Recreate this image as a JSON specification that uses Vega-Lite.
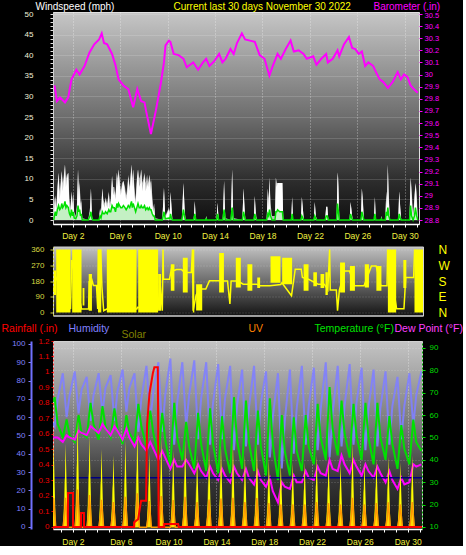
{
  "$schema": "https://vega.github.io/schema/vega-lite/v6.json",
  "background": "#000000",
  "padding": 0,
  "columns": 1,
  "bounds": "full",
  "spacing": {"row": 2.5, "column": 0},
  "config": {
    "font": "Liberation Sans",
    "axis": {
      "labelFont": "Liberation Sans",
      "titleFont": "Liberation Sans",
      "labelFontSize": 8,
      "titleFontSize": 10.5,
      "titleFontWeight": "normal",
      "titleAngle": 0,
      "titleAlign": "left",
      "titleBaseline": "top",
      "labelOverlap": false,
      "labelFlush": false
    }
  },
  "datasets": {
    "wind": [
      {"t":0.40,"w":0,"g":0,"a":0},{"t":0.45,"w":4,"g":5,"a":1},{"t":0.52,"w":5.6,"g":6,"a":2},{"t":0.60,"w":2,"g":3,"a":1},
      {"t":0.70,"w":7,"g":8,"a":2.5},{"t":0.80,"w":11.5,"g":11.5,"a":3.5},{"t":0.90,"w":5,"g":7,"a":2.5},{"t":1.00,"w":9,"g":10,"a":3},
      {"t":1.07,"w":11.9,"g":11.9,"a":4},{"t":1.15,"w":7,"g":9,"a":3},{"t":1.25,"w":10,"g":11,"a":3.5},{"t":1.34,"w":13.5,"g":13.5,"a":4.5},
      {"t":1.42,"w":8,"g":10,"a":3},{"t":1.50,"w":10,"g":11,"a":3.5},{"t":1.62,"w":11.5,"g":11.5,"a":3},{"t":1.72,"w":3,"g":5,"a":1.5},
      {"t":1.80,"w":2,"g":3,"a":1},{"t":1.89,"w":7,"g":7,"a":2.5},{"t":1.96,"w":3,"g":4,"a":1},{"t":2.03,"w":6.6,"g":6.6,"a":2},
      {"t":2.12,"w":1,"g":2,"a":0.5},{"t":2.25,"w":0.5,"g":1,"a":0.3},{"t":2.35,"w":3,"g":4,"a":1},{"t":2.44,"w":12.3,"g":12.3,"a":3.5},
      {"t":2.52,"w":5,"g":7,"a":2},{"t":2.58,"w":9,"g":9.5,"a":2.5},{"t":2.65,"w":3,"g":4,"a":1},{"t":2.71,"w":4.6,"g":5,"a":1.5},
      {"t":2.80,"w":0,"g":0.5,"a":0},{"t":3.30,"w":0,"g":0,"a":0},{"t":3.45,"w":2,"g":3,"a":1},{"t":3.53,"w":7.7,"g":7.7,"a":2},
      {"t":3.62,"w":0.5,"g":1,"a":0.3},{"t":3.70,"w":0,"g":0,"a":0},{"t":4.20,"w":0,"g":0,"a":0},{"t":4.30,"w":2.6,"g":3,"a":1},
      {"t":4.38,"w":1,"g":2,"a":0.5},{"t":4.49,"w":7.7,"g":7.7,"a":2},{"t":4.58,"w":4,"g":5,"a":1.5},{"t":4.68,"w":3,"g":4,"a":1.5},
      {"t":4.76,"w":5,"g":5.5,"a":2},{"t":4.90,"w":3,"g":4,"a":1.5},{"t":5.04,"w":6.6,"g":7,"a":2.5},{"t":5.12,"w":3,"g":4,"a":2},
      {"t":5.20,"w":4,"g":5,"a":2},{"t":5.31,"w":10.7,"g":10.7,"a":3.5},{"t":5.40,"w":6,"g":8,"a":3},{"t":5.50,"w":7,"g":8,"a":3},
      {"t":5.60,"w":5,"g":6,"a":2},{"t":5.72,"w":11.5,"g":11.5,"a":4},{"t":5.80,"w":8,"g":10,"a":3},{"t":5.86,"w":12.3,"g":12.3,"a":4},
      {"t":5.95,"w":9,"g":10,"a":3.5},{"t":6.05,"w":6,"g":7,"a":3},{"t":6.15,"w":8,"g":9,"a":3},{"t":6.27,"w":9.5,"g":9.5,"a":3.5},
      {"t":6.40,"w":7,"g":8,"a":3},{"t":6.50,"w":5,"g":6,"a":2.5},{"t":6.60,"w":7,"g":8,"a":3},{"t":6.68,"w":10.5,"g":11,"a":3.5},
      {"t":6.80,"w":7,"g":8,"a":3},{"t":6.95,"w":13.5,"g":13.5,"a":4.5},{"t":7.02,"w":8,"g":10,"a":3},{"t":7.09,"w":12.3,"g":12.3,"a":4},
      {"t":7.20,"w":6,"g":8,"a":3},{"t":7.30,"w":4,"g":5,"a":2},{"t":7.40,"w":9,"g":10,"a":3},{"t":7.50,"w":12.3,"g":12.3,"a":4},
      {"t":7.60,"w":8,"g":10,"a":3},{"t":7.70,"w":9,"g":11,"a":3},{"t":7.77,"w":12.3,"g":12.3,"a":3.5},{"t":7.86,"w":7,"g":9,"a":3},
      {"t":7.95,"w":9,"g":10,"a":3},{"t":8.05,"w":11,"g":11.5,"a":3.5},{"t":8.15,"w":7,"g":9,"a":2.5},{"t":8.27,"w":9,"g":11,"a":3},
      {"t":8.36,"w":8,"g":9,"a":2.5},{"t":8.46,"w":11,"g":11,"a":3},{"t":8.53,"w":7,"g":9,"a":2.5},{"t":8.60,"w":9.5,"g":10,"a":2.5},
      {"t":8.70,"w":4,"g":6,"a":1.5},{"t":8.80,"w":2,"g":3,"a":1},{"t":8.87,"w":3,"g":4,"a":1},{"t":8.95,"w":0,"g":0.5,"a":0},
      {"t":9.55,"w":0,"g":0,"a":0},{"t":9.69,"w":7.8,"g":7.8,"a":2},{"t":9.80,"w":0.5,"g":1,"a":0.3},{"t":10.10,"w":2.6,"g":3,"a":0.5},
      {"t":10.18,"w":1,"g":2,"a":0.3},{"t":10.24,"w":6.8,"g":6.8,"a":1.5},{"t":10.32,"w":3,"g":4,"a":0.5},{"t":10.40,"w":0,"g":0,"a":0},
      {"t":11.20,"w":0,"g":0,"a":0},{"t":11.33,"w":9,"g":9,"a":2.5},{"t":11.42,"w":3,"g":4,"a":1},{"t":11.50,"w":0,"g":0,"a":0},
      {"t":12.20,"w":0,"g":0,"a":0},{"t":12.29,"w":4.6,"g":4.6,"a":1.5},{"t":12.38,"w":0,"g":0,"a":0},{"t":13.20,"w":0,"g":0,"a":0},
      {"t":13.25,"w":1,"g":1,"a":0.3},{"t":13.30,"w":0,"g":0,"a":0},{"t":14.12,"w":0,"g":0,"a":0},{"t":14.21,"w":4.2,"g":4.2,"a":1.5},
      {"t":14.30,"w":0,"g":0,"a":0},{"t":14.65,"w":0,"g":0,"a":0},{"t":14.76,"w":9.5,"g":9.5,"a":2.5},{"t":14.86,"w":0,"g":0.5,"a":0},
      {"t":15.33,"w":0,"g":0,"a":0},{"t":15.44,"w":12.3,"g":12.3,"a":3},{"t":15.54,"w":0,"g":0.5,"a":0},{"t":16.30,"w":0,"g":0,"a":0},
      {"t":16.40,"w":7.7,"g":7.7,"a":2},{"t":16.48,"w":3,"g":4,"a":1},{"t":16.55,"w":0,"g":0,"a":0},{"t":17.27,"w":0,"g":0,"a":0},
      {"t":17.35,"w":5.8,"g":5.8,"a":1.5},{"t":17.44,"w":1,"g":2,"a":0.3},{"t":17.52,"w":0,"g":0,"a":0},{"t":18.35,"w":0,"g":0,"a":0},
      {"t":18.45,"w":7.7,"g":7.7,"a":1.5},{"t":18.52,"w":3,"g":5,"a":1},{"t":18.59,"w":10.3,"g":10.3,"a":2.5},{"t":18.68,"w":2,"g":4,"a":1},
      {"t":18.80,"w":0,"g":1,"a":0},{"t":19.05,"w":0,"g":1,"a":0},{"t":19.13,"w":10.3,"g":10.3,"a":2},{"t":19.20,"w":8,"g":9,"a":2},
      {"t":19.27,"w":9,"g":9,"a":2.5},{"t":19.45,"w":9,"g":9,"a":2},{"t":19.68,"w":9,"g":9,"a":2},{"t":19.75,"w":0,"g":0,"a":0},
      {"t":20.42,"w":0,"g":0,"a":0},{"t":20.50,"w":5.6,"g":5.6,"a":1.5},{"t":20.58,"w":0,"g":0,"a":0},{"t":21.24,"w":0,"g":0,"a":0},
      {"t":21.32,"w":5.6,"g":5.6,"a":1},{"t":21.40,"w":3,"g":3,"a":0.5},{"t":21.48,"w":0,"g":0,"a":0},{"t":22.33,"w":0,"g":0,"a":0},
      {"t":22.41,"w":4.4,"g":4.4,"a":1},{"t":22.50,"w":1,"g":1,"a":0.3},{"t":22.58,"w":0,"g":0,"a":0},{"t":23.28,"w":0,"g":0,"a":0},
      {"t":23.37,"w":3.2,"g":3.2,"a":1},{"t":23.47,"w":3.2,"g":3.2,"a":1},{"t":23.55,"w":0,"g":0,"a":0},{"t":24.25,"w":0,"g":0,"a":0},
      {"t":24.33,"w":11.6,"g":11.6,"a":4},{"t":24.40,"w":8,"g":10,"a":2},{"t":24.48,"w":0,"g":0,"a":0},{"t":25.35,"w":0,"g":0,"a":0},
      {"t":25.43,"w":4.4,"g":4.4,"a":1.5},{"t":25.52,"w":2,"g":2,"a":0.5},{"t":25.60,"w":0,"g":0,"a":0},{"t":26.30,"w":0,"g":0,"a":0},
      {"t":26.38,"w":7.7,"g":7.7,"a":2},{"t":26.47,"w":4,"g":5,"a":1},{"t":26.55,"w":0,"g":0,"a":0},{"t":27.40,"w":0,"g":0,"a":0},
      {"t":27.48,"w":5.6,"g":5.6,"a":1.5},{"t":27.56,"w":0,"g":0,"a":0},{"t":27.98,"w":0,"g":0,"a":0},{"t":28.03,"w":1,"g":1,"a":0.3},
      {"t":28.08,"w":0,"g":0,"a":0},{"t":28.36,"w":0,"g":0,"a":0},{"t":28.44,"w":7,"g":7,"a":2},{"t":28.50,"w":3,"g":3,"a":1},
      {"t":28.57,"w":13.5,"g":13.5,"a":3},{"t":28.65,"w":5,"g":6,"a":1},{"t":28.75,"w":0,"g":0,"a":0},{"t":29.45,"w":0,"g":0,"a":0},
      {"t":29.53,"w":7,"g":7,"a":1.5},{"t":29.62,"w":3,"g":3,"a":0.5},{"t":29.70,"w":0,"g":0,"a":0},{"t":30.40,"w":0,"g":0,"a":0},
      {"t":30.49,"w":10.3,"g":10.3,"a":3.5},{"t":30.57,"w":6,"g":8,"a":1},{"t":30.70,"w":0,"g":1,"a":0},{"t":30.82,"w":5,"g":6,"a":1},
      {"t":30.90,"w":9,"g":9,"a":3},{"t":31.00,"w":5,"g":7,"a":1},{"t":31.10,"w":0,"g":0,"a":0}
    ],
    "baro": [
      {"t":0.46,"p":29.91},{"t":0.66,"p":29.78},{"t":0.93,"p":29.81},{"t":1.34,"p":29.77},{"t":1.61,"p":29.81},{"t":1.89,"p":29.96},
      {"t":2.30,"p":30.04},{"t":2.57,"p":30.00},{"t":2.99,"p":30.07},{"t":3.40,"p":30.18},{"t":3.81,"p":30.25},{"t":4.22,"p":30.29},
      {"t":4.44,"p":30.34},{"t":4.63,"p":30.26},{"t":4.90,"p":30.25},{"t":5.31,"p":30.17},{"t":5.59,"p":30.08},{"t":5.86,"p":29.96},
      {"t":6.27,"p":29.91},{"t":6.68,"p":29.88},{"t":7.09,"p":29.73},{"t":7.44,"p":29.88},{"t":7.77,"p":29.78},{"t":8.05,"p":29.77},
      {"t":8.18,"p":29.70},{"t":8.59,"p":29.51},{"t":9.00,"p":29.70},{"t":9.41,"p":29.92},{"t":9.69,"p":30.10},{"t":9.82,"p":30.24},
      {"t":10.10,"p":30.28},{"t":10.23,"p":30.27},{"t":10.51,"p":30.17},{"t":10.92,"p":30.16},{"t":11.34,"p":30.13},{"t":11.61,"p":30.06},
      {"t":12.16,"p":30.10},{"t":12.57,"p":30.04},{"t":12.98,"p":30.10},{"t":13.25,"p":30.13},{"t":13.52,"p":30.07},{"t":13.93,"p":30.11},
      {"t":14.34,"p":30.17},{"t":14.62,"p":30.10},{"t":14.89,"p":30.13},{"t":15.30,"p":30.21},{"t":15.57,"p":30.17},{"t":15.85,"p":30.26},
      {"t":16.26,"p":30.34},{"t":16.53,"p":30.29},{"t":16.94,"p":30.28},{"t":17.35,"p":30.27},{"t":17.76,"p":30.16},{"t":18.17,"p":30.13},
      {"t":18.58,"p":29.99},{"t":18.86,"p":30.07},{"t":19.27,"p":30.17},{"t":19.55,"p":30.13},{"t":19.96,"p":30.21},{"t":20.37,"p":30.28},
      {"t":20.64,"p":30.19},{"t":21.05,"p":30.20},{"t":21.46,"p":30.17},{"t":21.73,"p":30.13},{"t":22.28,"p":30.15},{"t":22.55,"p":30.08},
      {"t":22.96,"p":30.13},{"t":23.37,"p":30.17},{"t":23.51,"p":30.10},{"t":23.92,"p":30.13},{"t":24.33,"p":30.20},{"t":24.47,"p":30.15},
      {"t":24.88,"p":30.25},{"t":25.29,"p":30.31},{"t":25.56,"p":30.22},{"t":25.83,"p":30.21},{"t":26.11,"p":30.17},{"t":26.38,"p":30.19},
      {"t":26.66,"p":30.07},{"t":26.93,"p":30.10},{"t":27.34,"p":30.07},{"t":27.62,"p":30.01},{"t":27.89,"p":29.96},{"t":28.17,"p":29.94},
      {"t":28.58,"p":29.89},{"t":28.99,"p":29.94},{"t":29.40,"p":30.02},{"t":29.67,"p":29.96},{"t":29.94,"p":30.00},{"t":30.22,"p":29.98},
      {"t":30.49,"p":29.91},{"t":30.76,"p":29.88},{"t":31.09,"p":29.85}
    ],
    "dirline": [
      {"t":0.38,"d":120},{"t":0.58,"d":200},{"t":1.79,"d":20},{"t":1.89,"d":300},{"t":2.71,"d":20},{"t":3.00,"d":20},{"t":3.30,"d":20},
      {"t":3.35,"d":180},{"t":3.45,"d":140},{"t":3.60,"d":180},{"t":3.70,"d":155},{"t":3.96,"d":155},{"t":4.06,"d":20},{"t":4.11,"d":360},
      {"t":4.21,"d":15},{"t":4.31,"d":360},{"t":4.41,"d":150},{"t":4.56,"d":10},{"t":4.81,"d":20},{"t":7.33,"d":20},{"t":7.38,"d":30},
      {"t":9.10,"d":20},{"t":9.25,"d":180},{"t":9.45,"d":10},{"t":9.51,"d":360},{"t":9.55,"d":190},{"t":10.05,"d":190},{"t":10.21,"d":250},
      {"t":10.46,"d":240},{"t":10.62,"d":245},{"t":11.06,"d":245},{"t":11.30,"d":230},{"t":11.57,"d":228},{"t":11.87,"d":230},{"t":11.97,"d":360},
      {"t":12.02,"d":10},{"t":12.27,"d":100},{"t":12.57,"d":134},{"t":13.08,"d":134},{"t":13.38,"d":181},{"t":13.78,"d":181},{"t":14.19,"d":181},
      {"t":14.59,"d":180},{"t":14.89,"d":180},{"t":15.09,"d":49},{"t":15.19,"d":180},{"t":15.60,"d":180},{"t":16.00,"d":170},{"t":16.20,"d":162},
      {"t":16.91,"d":162},{"t":17.31,"d":162},{"t":17.61,"d":153},{"t":18.32,"d":153},{"t":18.42,"d":153},{"t":19.33,"d":160},{"t":19.43,"d":170},
      {"t":20.23,"d":96},{"t":20.54,"d":247},{"t":21.04,"d":247},{"t":21.14,"d":200},{"t":21.65,"d":190},{"t":22.45,"d":162},{"t":22.96,"d":162},
      {"t":23.26,"d":130},{"t":23.41,"d":360},{"t":23.46,"d":128},{"t":23.97,"d":128},{"t":24.07,"d":11},{"t":24.22,"d":128},{"t":24.67,"d":237},
      {"t":25.07,"d":237},{"t":25.48,"d":153},{"t":26.28,"d":153},{"t":26.89,"d":265},{"t":27.29,"d":265},{"t":27.69,"d":153},{"t":28.20,"d":153},
      {"t":28.25,"d":360},{"t":29.00,"d":21},{"t":29.61,"d":21},{"t":29.76,"d":200},{"t":30.42,"d":200},{"t":30.50,"d":360}
    ],
    "dirblk": [
      {"t":0.41,"t2":0.60,"lo":100,"hi":240},{"t":0.60,"t2":1.79,"lo":0,"hi":360},{"t":1.93,"t2":2.71,"lo":0,"hi":360},
      {"t":2.80,"t2":2.95,"lo":40,"hi":140},{"t":3.31,"t2":3.58,"lo":10,"hi":220},{"t":4.08,"t2":4.36,"lo":0,"hi":360},
      {"t":4.82,"t2":7.30,"lo":0,"hi":360},{"t":7.44,"t2":9.10,"lo":0,"hi":360},{"t":9.10,"t2":9.35,"lo":10,"hi":220},
      {"t":10.16,"t2":10.46,"lo":125,"hi":275},{"t":11.16,"t2":11.57,"lo":115,"hi":313},{"t":12.00,"t2":12.12,"lo":0,"hi":360},
      {"t":12.27,"t2":12.78,"lo":11,"hi":162},{"t":14.19,"t2":14.59,"lo":115,"hi":340},{"t":15.58,"t2":16.00,"lo":143,"hi":313},
      {"t":16.55,"t2":16.96,"lo":125,"hi":275},{"t":17.37,"t2":17.61,"lo":140,"hi":200},{"t":18.48,"t2":19.31,"lo":170,"hi":322},
      {"t":19.45,"t2":20.28,"lo":162,"hi":313},{"t":21.24,"t2":21.65,"lo":125,"hi":275},{"t":22.05,"t2":22.35,"lo":150,"hi":230},
      {"t":22.65,"t2":22.96,"lo":140,"hi":220},{"t":23.06,"t2":23.26,"lo":100,"hi":230},{"t":24.28,"t2":24.69,"lo":115,"hi":285},
      {"t":25.10,"t2":25.52,"lo":125,"hi":265},{"t":26.34,"t2":26.69,"lo":143,"hi":275},{"t":27.31,"t2":27.73,"lo":125,"hi":265},
      {"t":28.27,"t2":28.96,"lo":0,"hi":360},{"t":29.56,"t2":29.81,"lo":140,"hi":300},{"t":30.49,"t2":31.30,"lo":0,"hi":360}
    ],
    "cyc": [
      {"t":0.33,"T":66,"D":50,"H":57},{"t":0.47,"T":68,"D":50,"H":55},{"t":0.72,"T":56,"D":50,"H":70},
      {"t":1.15,"T":50,"D":48,"H":84},{"t":1.47,"T":58,"D":51,"H":60},{"t":1.72,"T":51,"D":50,"H":72},
      {"t":2.15,"T":48,"D":49,"H":85},{"t":2.47,"T":60,"D":53,"H":62},{"t":2.72,"T":52,"D":52,"H":75},
      {"t":3.15,"T":50,"D":51,"H":82},{"t":3.47,"T":65.5,"D":55,"H":58},{"t":3.72,"T":56,"D":54,"H":72},
      {"t":4.15,"T":49,"D":52,"H":84},{"t":4.47,"T":64,"D":56,"H":62},{"t":4.72,"T":55,"D":54,"H":76},
      {"t":5.15,"T":50,"D":51,"H":83},{"t":5.47,"T":63,"D":55,"H":58},{"t":5.72,"T":54,"D":53,"H":74},
      {"t":6.15,"T":47,"D":49,"H":86},{"t":6.47,"T":60,"D":54,"H":63},{"t":6.72,"T":52,"D":50,"H":76},
      {"t":7.15,"T":48,"D":46,"H":84},{"t":7.47,"T":65,"D":50,"H":52},{"t":7.72,"T":55,"D":47,"H":70},
      {"t":8.15,"T":46,"D":44,"H":88},{"t":8.47,"T":62,"D":48,"H":58},{"t":8.72,"T":52,"D":45,"H":74},
      {"t":9.15,"T":42,"D":40,"H":90},{"t":9.47,"T":61,"D":44,"H":52},{"t":9.72,"T":49,"D":41,"H":72},
      {"t":10.15,"T":37,"D":36,"H":92},{"t":10.47,"T":65.5,"D":40,"H":45},{"t":10.72,"T":50,"D":37,"H":68},
      {"t":11.15,"T":40,"D":37,"H":90},{"t":11.47,"T":57,"D":40,"H":55},{"t":11.72,"T":46,"D":38,"H":72},
      {"t":12.15,"T":36,"D":34,"H":91},{"t":12.47,"T":61,"D":38,"H":48},{"t":12.72,"T":47,"D":35,"H":70},
      {"t":13.15,"T":35,"D":32,"H":90},{"t":13.47,"T":63,"D":37,"H":45},{"t":13.72,"T":47,"D":34,"H":68},
      {"t":14.15,"T":34,"D":31,"H":89},{"t":14.47,"T":59.5,"D":36,"H":48},{"t":14.72,"T":45,"D":33,"H":70},
      {"t":15.15,"T":34,"D":30,"H":88},{"t":15.47,"T":68,"D":37,"H":42},{"t":15.72,"T":49,"D":34,"H":66},
      {"t":16.15,"T":36,"D":31,"H":86},{"t":16.47,"T":66.5,"D":36,"H":44},{"t":16.72,"T":48,"D":32,"H":65},
      {"t":17.15,"T":35,"D":29,"H":88},{"t":17.47,"T":62,"D":35,"H":45},{"t":17.72,"T":46,"D":31,"H":68},
      {"t":18.15,"T":33,"D":28,"H":85},{"t":18.47,"T":67.5,"D":32,"H":38},{"t":18.72,"T":47,"D":26,"H":60},
      {"t":19.15,"T":31,"D":21,"H":84},{"t":19.47,"T":60,"D":30,"H":32},{"t":19.72,"T":44,"D":28,"H":58},
      {"t":20.15,"T":33,"D":27,"H":86},{"t":20.47,"T":59,"D":33,"H":40},{"t":20.72,"T":44,"D":30,"H":65},
      {"t":21.15,"T":35,"D":30,"H":88},{"t":21.47,"T":60,"D":35,"H":45},{"t":21.72,"T":46,"D":32,"H":66},
      {"t":22.15,"T":38,"D":31,"H":87},{"t":22.47,"T":65,"D":37,"H":42},{"t":22.72,"T":50,"D":34,"H":64},
      {"t":23.15,"T":40,"D":33,"H":90},{"t":23.47,"T":72.5,"D":40,"H":38},{"t":23.72,"T":54,"D":36,"H":62},
      {"t":24.15,"T":42,"D":35,"H":88},{"t":24.47,"T":66.5,"D":42,"H":44},{"t":24.72,"T":52,"D":38,"H":66},
      {"t":25.15,"T":41,"D":34,"H":89},{"t":25.47,"T":65,"D":40,"H":45},{"t":25.72,"T":51,"D":37,"H":68},
      {"t":26.15,"T":40,"D":33,"H":87},{"t":26.47,"T":65.5,"D":38,"H":42},{"t":26.72,"T":50,"D":35,"H":65},
      {"t":27.15,"T":38,"D":32,"H":86},{"t":27.47,"T":65.5,"D":37,"H":44},{"t":27.72,"T":50,"D":34,"H":65},
      {"t":28.15,"T":40,"D":30,"H":85},{"t":28.47,"T":59.5,"D":35,"H":45},{"t":28.72,"T":47,"D":31,"H":66},
      {"t":29.15,"T":36,"D":27,"H":82},{"t":29.47,"T":55.5,"D":32,"H":48},{"t":29.72,"T":45,"D":29,"H":66},
      {"t":30.15,"T":38,"D":30,"H":84},{"t":30.47,"T":58,"D":38,"H":55},{"t":30.72,"T":48,"D":37,"H":72},
      {"t":31.15,"T":44,"D":38,"H":85}
    ],
    "solar": [
      {"t":0.16,"s":0,"o":0,"u":0},{"t":0.30,"s":158,"o":270,"u":68},{"t":0.38,"s":450,"o":225,"u":158},{"t":0.56,"s":0,"o":0,"u":0},
      {"t":1.16,"s":0,"o":0,"u":0},{"t":1.30,"s":158,"o":270,"u":68},{"t":1.38,"s":450,"o":225,"u":158},{"t":1.56,"s":0,"o":0,"u":0},
      {"t":2.16,"s":0,"o":0,"u":0},{"t":2.30,"s":202,"o":346,"u":86},{"t":2.38,"s":576,"o":288,"u":202},{"t":2.56,"s":0,"o":0,"u":0},
      {"t":3.16,"s":0,"o":0,"u":0},{"t":3.30,"s":173,"o":296,"u":74},{"t":3.38,"s":494,"o":247,"u":173},{"t":3.56,"s":0,"o":0,"u":0},
      {"t":4.16,"s":0,"o":0,"u":0},{"t":4.30,"s":147,"o":252,"u":63},{"t":4.38,"s":420,"o":210,"u":147},{"t":4.56,"s":0,"o":0,"u":0},
      {"t":5.16,"s":0,"o":0,"u":0},{"t":5.30,"s":135,"o":232,"u":58},{"t":5.38,"s":386,"o":193,"u":135},{"t":5.56,"s":0,"o":0,"u":0},
      {"t":6.16,"s":0,"o":0,"u":0},{"t":6.30,"s":163,"o":280,"u":70},{"t":6.38,"s":467,"o":234,"u":163},{"t":6.56,"s":0,"o":0,"u":0},
      {"t":7.16,"s":0,"o":0,"u":0},{"t":7.30,"s":182,"o":313,"u":78},{"t":7.38,"s":521,"o":261,"u":182},{"t":7.56,"s":0,"o":0,"u":0},
      {"t":8.16,"s":0,"o":0,"u":0},{"t":8.30,"s":140,"o":240,"u":60},{"t":8.38,"s":400,"o":200,"u":140},{"t":8.56,"s":0,"o":0,"u":0},
      {"t":9.16,"s":0,"o":0,"u":0},{"t":9.30,"s":167,"o":287,"u":72},{"t":9.38,"s":478,"o":239,"u":167},{"t":9.56,"s":0,"o":0,"u":0},
      {"t":10.16,"s":0,"o":0,"u":0},{"t":10.30,"s":145,"o":248,"u":62},{"t":10.38,"s":413,"o":207,"u":145},{"t":10.56,"s":0,"o":0,"u":0},
      {"t":11.16,"s":0,"o":0,"u":0},{"t":11.30,"s":163,"o":280,"u":70},{"t":11.38,"s":467,"o":234,"u":163},{"t":11.56,"s":0,"o":0,"u":0},
      {"t":12.16,"s":0,"o":0,"u":0},{"t":12.30,"s":135,"o":232,"u":58},{"t":12.38,"s":386,"o":193,"u":135},{"t":12.56,"s":0,"o":0,"u":0},
      {"t":13.16,"s":0,"o":0,"u":0},{"t":13.30,"s":148,"o":254,"u":64},{"t":13.38,"s":424,"o":212,"u":148},{"t":13.56,"s":0,"o":0,"u":0},
      {"t":14.16,"s":0,"o":0,"u":0},{"t":14.30,"s":154,"o":264,"u":66},{"t":14.38,"s":440,"o":220,"u":154},{"t":14.56,"s":0,"o":0,"u":0},
      {"t":15.16,"s":0,"o":0,"u":0},{"t":15.30,"s":158,"o":271,"u":68},{"t":15.38,"s":451,"o":226,"u":158},{"t":15.56,"s":0,"o":0,"u":0},
      {"t":16.16,"s":0,"o":0,"u":0},{"t":16.30,"s":135,"o":232,"u":58},{"t":16.38,"s":386,"o":193,"u":135},{"t":16.56,"s":0,"o":0,"u":0},
      {"t":17.16,"s":0,"o":0,"u":0},{"t":17.30,"s":156,"o":267,"u":67},{"t":17.38,"s":445,"o":223,"u":156},{"t":17.56,"s":0,"o":0,"u":0},
      {"t":18.16,"s":0,"o":0,"u":0},{"t":18.30,"s":129,"o":221,"u":55},{"t":18.38,"s":369,"o":185,"u":129},{"t":18.56,"s":0,"o":0,"u":0},
      {"t":19.16,"s":0,"o":0,"u":0},{"t":19.30,"s":122,"o":209,"u":52},{"t":19.38,"s":348,"o":174,"u":122},{"t":19.56,"s":0,"o":0,"u":0},
      {"t":20.16,"s":0,"o":0,"u":0},{"t":20.30,"s":122,"o":209,"u":52},{"t":20.38,"s":348,"o":174,"u":122},{"t":20.56,"s":0,"o":0,"u":0},
      {"t":21.16,"s":0,"o":0,"u":0},{"t":21.30,"s":122,"o":209,"u":52},{"t":21.38,"s":348,"o":174,"u":122},{"t":21.56,"s":0,"o":0,"u":0},
      {"t":22.16,"s":0,"o":0,"u":0},{"t":22.30,"s":135,"o":232,"u":58},{"t":22.38,"s":386,"o":193,"u":135},{"t":22.56,"s":0,"o":0,"u":0},
      {"t":23.16,"s":0,"o":0,"u":0},{"t":23.30,"s":129,"o":221,"u":55},{"t":23.38,"s":369,"o":185,"u":129},{"t":23.56,"s":0,"o":0,"u":0},
      {"t":24.16,"s":0,"o":0,"u":0},{"t":24.30,"s":122,"o":209,"u":52},{"t":24.38,"s":348,"o":174,"u":122},{"t":24.56,"s":0,"o":0,"u":0},
      {"t":25.16,"s":0,"o":0,"u":0},{"t":25.30,"s":158,"o":271,"u":68},{"t":25.38,"s":451,"o":226,"u":158},{"t":25.56,"s":0,"o":0,"u":0},
      {"t":26.16,"s":0,"o":0,"u":0},{"t":26.30,"s":122,"o":209,"u":52},{"t":26.38,"s":348,"o":174,"u":122},{"t":26.56,"s":0,"o":0,"u":0},
      {"t":27.16,"s":0,"o":0,"u":0},{"t":27.30,"s":129,"o":221,"u":55},{"t":27.38,"s":369,"o":185,"u":129},{"t":27.56,"s":0,"o":0,"u":0},
      {"t":28.16,"s":0,"o":0,"u":0},{"t":28.30,"s":133,"o":228,"u":57},{"t":28.38,"s":380,"o":190,"u":133},{"t":28.56,"s":0,"o":0,"u":0},
      {"t":29.16,"s":0,"o":0,"u":0},{"t":29.30,"s":122,"o":209,"u":52},{"t":29.38,"s":348,"o":174,"u":122},{"t":29.56,"s":0,"o":0,"u":0},
      {"t":30.16,"s":0,"o":0,"u":0},{"t":30.30,"s":135,"o":232,"u":58},{"t":30.38,"s":386,"o":193,"u":135},{"t":30.56,"s":0,"o":0,"u":0},
      {"t":31.30,"s":0,"o":0,"u":0}
    ],
    "rain": [
      {"t":0.33,"r":0},{"t":1.58,"r":0},{"t":1.585,"r":0.22},{"t":2.0,"r":0.22},{"t":2.005,"r":0},{"t":2.67,"r":0},{"t":2.675,"r":0.09},
      {"t":2.92,"r":0.09},{"t":2.925,"r":0},{"t":7.11,"r":0},{"t":7.115,"r":0.03},{"t":7.45,"r":0.05},{"t":7.70,"r":0.17},{"t":8.12,"r":0.17},
      {"t":8.20,"r":0.66},{"t":8.40,"r":0.86},{"t":8.68,"r":0.99},{"t":8.81,"r":1.03},{"t":9.10,"r":1.03},{"t":9.17,"r":0},{"t":9.63,"r":0},
      {"t":9.635,"r":0.02},{"t":10.80,"r":0.02},{"t":10.85,"r":0},{"t":31.2,"r":0}
    ],
    "freeze": [{"t":0.33,"t2":31.2,"f":32}]
  },
  "concat": [
    {
      "width": 366,
      "height": 212,
      "view": {
        "fill": {"gradient": "linear", "x1": 0, "y1": 0, "x2": 0, "y2": 1, "stops": [
          {"offset": 0, "color": "#c6c6c6"}, {"offset": 0.5, "color": "#6c6c6c"}, {"offset": 0.8, "color": "#2c2c2c"}, {"offset": 1, "color": "#0e0e0e"}]},
        "stroke": "#e0e0e0"
      },
      "encoding": {
        "x": {
          "field": "t", "type": "quantitative",
          "scale": {"domain": [0.33, 31.2], "nice": false, "zero": false},
          "axis": {
            "values": [1,2,3,4,5,6,7,8,9,10,11,12,13,14,15,16,17,18,19,20,21,22,23,24,25,26,27,28,29,30,31],
            "labelExpr": "(datum.value - 2) % 4 === 0 ? 'Day ' + datum.value : ''",
            "labelColor": "#f0f040", "labelFontSize": 8.5, "labelPadding": 4,
            "tickSize": 3, "tickColor": "#ffffff",
            "domainColor": "#ffffff", "domainWidth": 1.5,
            "grid": true, "gridColor": "#ffffff", "gridDash": [1, 2],
            "gridOpacity": {"condition": {"test": "(datum.value - 2) % 4 === 0", "value": 0.5}, "value": 0},
            "title": "Current last 30 days November 30 2022",
            "titleColor": "#ffff00", "titleFontSize": 10, "titleX": 120, "titleY": -223
          }
        }
      },
      "layer": [
        {
          "data": {"name": "wind"},
          "mark": {"type": "area", "color": "#b8b8b8", "clip": true},
          "encoding": {
            "y": {
              "field": "g", "type": "quantitative",
              "scale": {"domain": [-0.97, 50.49], "nice": false, "zero": false},
              "axis": {
                "values": [0,1,2,3,4,5,6,7,8,9,10,11,12,13,14,15,16,17,18,19,20,21,22,23,24,25,26,27,28,29,30,31,32,33,34,35,36,37,38,39,40,41,42,43,44,45,46,47,48,49,50],
                "labelExpr": "datum.value % 5 === 0 ? datum.label : ''",
                "labelColor": "#f0f0d8", "labelPadding": 17,
                "tickSize": 3, "tickColor": "#e0e0e0",
                "domainColor": "#d0d0d0",
                "grid": true, "gridColor": "#ffffff", "gridDash": [1, 1],
                "gridOpacity": {"condition": {"test": "datum.value % 5 === 0", "value": 0.3}, "value": 0},
                "title": "Windspeed (mph)", "titleColor": "#ffffff", "titleFontSize": 10, "titleX": -18, "titleY": -11
              }
            },
            "y2": {"datum": 0}
          }
        },
        {
          "data": {"name": "wind"},
          "mark": {"type": "area", "color": "#ffffff", "clip": true},
          "encoding": {
            "y": {"field": "w", "type": "quantitative", "scale": {"domain": [-0.97, 50.49], "nice": false, "zero": false}, "axis": null},
            "y2": {"datum": 0}
          }
        },
        {
          "data": {"name": "wind"},
          "mark": {"type": "area", "color": "#c4f0c4", "clip": true},
          "encoding": {
            "y": {"field": "a", "type": "quantitative", "scale": {"domain": [-0.97, 50.49], "nice": false, "zero": false}, "axis": null},
            "y2": {"datum": 0}
          }
        },
        {
          "data": {"name": "wind"},
          "mark": {"type": "line", "color": "#00e000", "strokeWidth": 1.5, "clip": true},
          "encoding": {
            "y": {"field": "a", "type": "quantitative", "scale": {"domain": [-0.97, 50.49], "nice": false, "zero": false}, "axis": null}
          }
        },
        {
          "data": {"name": "baro"},
          "mark": {"type": "line", "color": "#ff00ff", "strokeWidth": 2, "clip": true},
          "encoding": {
            "y": {
              "field": "p", "type": "quantitative",
              "scale": {"domain": [28.767, 30.516], "nice": false, "zero": false},
              "axis": {
                "orient": "right",
                "values": [28.8,28.9,29.0,29.1,29.2,29.3,29.4,29.5,29.6,29.7,29.8,29.9,30.0,30.1,30.2,30.3,30.4,30.5],
                "format": ".3~r",
                "labelColor": "#ff00ff", "labelPadding": 2, "labelFontSize": 7.5,
                "labelOffset": {"condition": {"test": "datum.value > 30.45", "value": 2}, "value": 0},
                "tickColor": "#ff00ff", "tickSize": 3,
                "domain": false, "grid": false,
                "title": "Barometer (.in)", "titleColor": "#ff00ff", "titleFontSize": 10, "titleX": -46, "titleY": -11
              }
            }
          }
        }
      ],
      "resolve": {"scale": {"y": "independent"}}
    },
    {
      "width": 370,
      "height": 69,
      "view": {
        "fill": {"gradient": "linear", "x1": 0, "y1": 0, "x2": 0, "y2": 1, "stops": [
          {"offset": 0, "color": "#c0c0c0"}, {"offset": 0.6, "color": "#5a5a5a"}, {"offset": 1, "color": "#141414"}]},
        "stroke": "#d0d0d0"
      },
      "encoding": {
        "x": {
          "field": "t", "type": "quantitative",
          "scale": {"domain": [0.33, 31.2], "nice": false, "zero": false},
          "axis": {"labels": false, "ticks": false, "grid": false, "domainColor": "#d0d0d0", "title": null}
        }
      },
      "layer": [
        {
          "data": {"name": "dirblk"},
          "mark": {"type": "bar", "color": "#ffff00", "clip": true},
          "encoding": {
            "x2": {"field": "t2"},
            "y": {
              "field": "lo", "type": "quantitative",
              "scale": {"domain": [-17, 377], "nice": false, "zero": false},
              "axis": {
                "values": [0, 90, 180, 270, 360],
                "labelColor": "#d8d840", "labelPadding": 6,
                "tickColor": "#d8d840", "tickSize": 3,
                "domainColor": "#c8c840", "domainDash": [2, 2],
                "grid": true, "gridColor": "#ffffff", "gridOpacity": 0.25, "gridDash": [1, 2],
                "title": null
              }
            },
            "y2": {"field": "hi"}
          }
        },
        {
          "data": {"name": "dirline"},
          "mark": {"type": "line", "color": "#ffff00", "strokeWidth": 1.5, "clip": true},
          "encoding": {
            "y": {
              "field": "d", "type": "quantitative",
              "scale": {"domain": [-17, 377], "nice": false, "zero": false},
              "axis": {
                "orient": "right",
                "values": [0, 90, 180, 270, 360],
                "labelExpr": "datum.value == 90 ? 'E' : datum.value == 180 ? 'S' : datum.value == 270 ? 'W' : 'N'",
                "labelColor": "#ffff00", "labelFontSize": 12, "labelPadding": 15,
                "ticks": false, "domain": false, "grid": false,
                "title": null
              }
            }
          }
        }
      ],
      "resolve": {"scale": {"y": "independent"}}
    },
    {
      "width": 369,
      "height": 188,
      "view": {
        "fill": {"gradient": "linear", "x1": 0, "y1": 0, "x2": 0, "y2": 1, "stops": [
          {"offset": 0, "color": "#c4c4c4"}, {"offset": 0.45, "color": "#787878"}, {"offset": 0.75, "color": "#343434"}, {"offset": 1, "color": "#161616"}]},
        "stroke": "#d0d0d0"
      },
      "encoding": {
        "x": {
          "field": "t", "type": "quantitative",
          "scale": {"domain": [0.33, 31.2], "nice": false, "zero": false},
          "axis": {
            "values": [1,2,3,4,5,6,7,8,9,10,11,12,13,14,15,16,17,18,19,20,21,22,23,24,25,26,27,28,29,30,31],
            "labelExpr": "(datum.value - 2) % 4 === 0 ? 'Day ' + datum.value : ''",
            "labelColor": "#f0f040", "labelFontSize": 8.5, "labelPadding": 5,
            "tickSize": 3, "tickColor": "#ffffff",
            "domainColor": "#ffffff", "domainWidth": 1.5,
            "grid": true, "gridColor": "#ffffff", "gridDash": [1, 2],
            "gridOpacity": {"condition": {"test": "(datum.value - 2) % 4 === 0", "value": 0.5}, "value": 0},
            "title": null
          }
        }
      },
      "layer": [
        {
          "data": {"name": "cyc"},
          "mark": {"type": "line", "color": "#8080ff", "strokeWidth": 2, "opacity": 0.9, "clip": true},
          "encoding": {
            "y": {
              "field": "H", "type": "quantitative",
              "scale": {"domain": [-1.1, 101.6], "nice": false, "zero": false},
              "axis": {
                "orient": "left", "offset": 22,
                "values": [0, 10, 20, 30, 40, 50, 60, 70, 80, 90, 100],
                "labelColor": "#8080ff", "labelPadding": 3,
                "tickColor": "#8080ff", "tickSize": 3,
                "domainColor": "#7070ff", "domainWidth": 2,
                "grid": false,
                "title": "Humidity", "titleColor": "#8080ff", "titleX": 37, "titleY": -18
              }
            }
          }
        },
        {
          "data": {"name": "cyc"},
          "mark": {"type": "line", "color": "#00e000", "strokeWidth": 2, "clip": true},
          "encoding": {
            "y": {
              "field": "T", "type": "quantitative",
              "scale": {"domain": [9.1, 93.1], "nice": false, "zero": false},
              "axis": {
                "orient": "right",
                "values": [10, 20, 30, 40, 50, 60, 70, 80, 90],
                "labelColor": "#00dd00", "labelPadding": 4,
                "tickColor": "#00dd00", "tickSize": 3,
                "domainColor": "#00aa00", "domainDash": [2, 2],
                "grid": true, "gridColor": "#ffffff", "gridOpacity": 0.25, "gridDash": [1, 2],
                "title": "Temperature (°F)", "titleColor": "#00e000", "titleX": -108, "titleY": -18
              }
            }
          }
        },
        {
          "data": {"name": "cyc"},
          "mark": {"type": "line", "color": "#ff00ff", "strokeWidth": 2, "clip": true},
          "encoding": {
            "y": {
              "field": "D", "type": "quantitative",
              "scale": {"domain": [9.1, 93.1], "nice": false, "zero": false},
              "axis": {
                "orient": "right", "labels": false, "ticks": false, "domain": false, "grid": false,
                "title": "Dew Point (°F)", "titleColor": "#ff40ff", "titleX": -28, "titleY": -18
              }
            }
          }
        },
        {
          "data": {"name": "freeze"},
          "mark": {"type": "rule", "color": "#000080", "strokeWidth": 1.5},
          "encoding": {
            "x2": {"field": "t2"},
            "y": {"field": "f", "type": "quantitative", "scale": {"domain": [9.1, 93.1], "nice": false, "zero": false}, "axis": null}
          }
        },
        {
          "data": {"name": "solar"},
          "mark": {"type": "area", "color": "#a8a800", "opacity": 0.75, "clip": true},
          "encoding": {
            "y": {
              "field": "o", "type": "quantitative",
              "scale": {"domain": [-10, 1000], "nice": false, "zero": false},
              "axis": {
                "orient": "left", "labels": false, "ticks": false, "domain": false, "grid": false,
                "title": "Solar", "titleColor": "#808000", "titleX": 68, "titleY": -12
              }
            },
            "y2": {"datum": 0}
          }
        },
        {
          "data": {"name": "solar"},
          "mark": {"type": "area", "color": "#ffff00", "clip": true},
          "encoding": {
            "y": {"field": "s", "type": "quantitative", "scale": {"domain": [-10, 1000], "nice": false, "zero": false}, "axis": null},
            "y2": {"datum": 0}
          }
        },
        {
          "data": {"name": "solar"},
          "mark": {"type": "area", "color": "#ff8800", "fillOpacity": 0.3, "line": {"color": "#ff9900", "strokeWidth": 1.5}, "clip": true},
          "encoding": {
            "y": {
              "field": "u", "type": "quantitative",
              "scale": {"domain": [-10, 1000], "nice": false, "zero": false},
              "axis": {
                "orient": "left", "labels": false, "ticks": false, "domain": false, "grid": false,
                "title": "UV", "titleColor": "#ff8000", "titleX": 195, "titleY": -18
              }
            },
            "y2": {"datum": 0}
          }
        },
        {
          "data": {"name": "rain"},
          "mark": {"type": "line", "color": "#ff0000", "strokeWidth": 2, "clip": true},
          "encoding": {
            "y": {
              "field": "r", "type": "quantitative",
              "scale": {"domain": [-0.013, 1.2], "nice": false, "zero": false},
              "axis": {
                "orient": "left",
                "values": [0, 0.1, 0.2, 0.3, 0.4, 0.5, 0.6, 0.7, 0.8, 0.9, 1, 1.1, 1.2],
                "format": "~g",
                "labelColor": "#ee0000", "labelPadding": 2,
                "tickColor": "#ee0000", "tickSize": 2,
                "domainColor": "#ff3030", "domainDash": [2, 2],
                "grid": false,
                "title": "Rainfall (.in)", "titleColor": "#ff0000", "titleX": -52, "titleY": -18
              }
            }
          }
        }
      ],
      "resolve": {"scale": {"y": "independent"}}
    }
  ]
}
